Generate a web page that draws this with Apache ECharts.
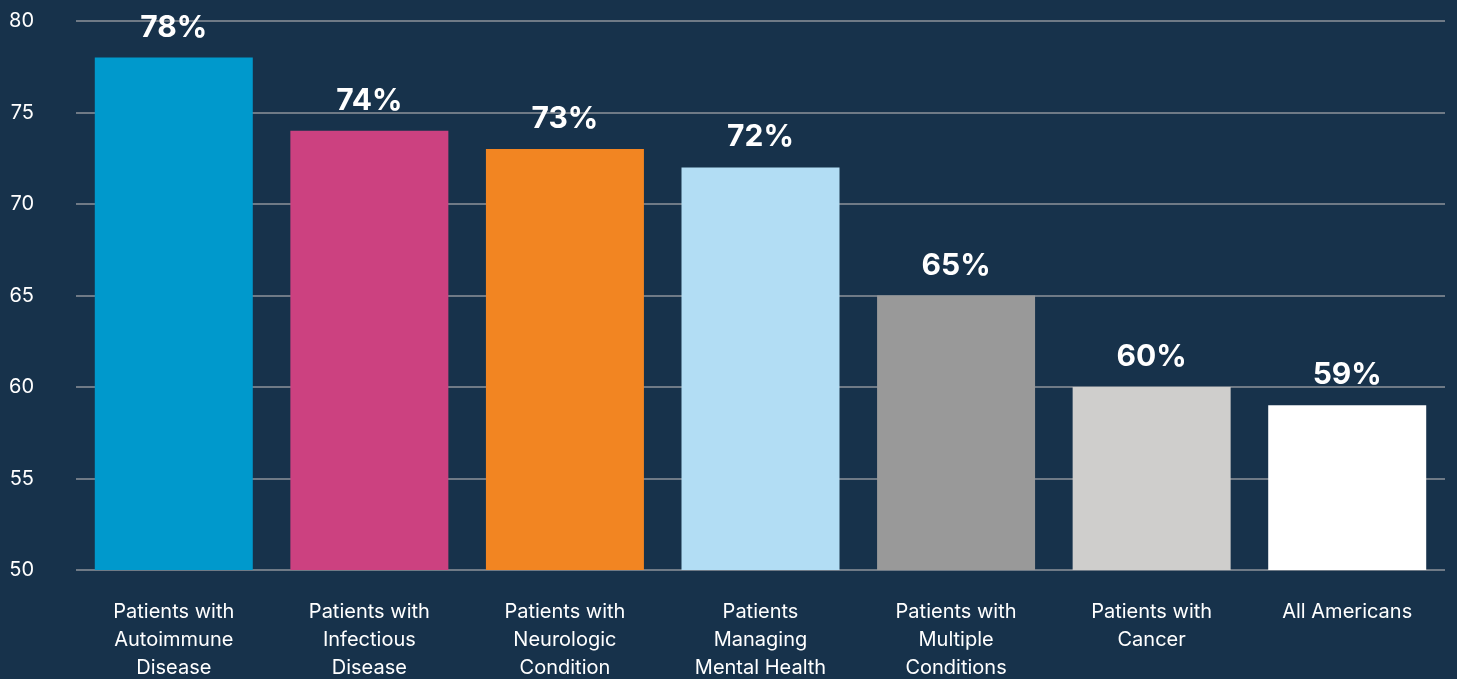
<!DOCTYPE html>
<html lang="en">
<head>
  <meta charset="UTF-8">
  <title>Bar chart</title>
  <style>
    * { margin: 0; padding: 0; }
    body { background: #17324b; }
    #chart { width: 1457px; height: 679px; }
  </style>
</head>
<body>
  <div id="chart"></div>
  <script src="https://cdn.jsdelivr.net/npm/echarts@6/dist/echarts.min.js"></script>
  <script type="text/javascript">
  var categories = [
    'Patients with\nAutoimmune\nDisease',
    'Patients with\nInfectious\nDisease',
    'Patients with\nNeurologic\nCondition',
    'Patients\nManaging\nMental Health',
    'Patients with\nMultiple\nConditions',
    'Patients with\nCancer',
    'All Americans'
  ];
  var values = [78, 74, 73, 72, 65, 60, 59];
  var barColors = ['#0099cc', '#cc4180', '#f28522', '#b2ddf4', '#999999', '#cfcecc', '#ffffff'];

  function main () {
    var chart = echarts.init(document.getElementById('chart'));
    var option = {
      backgroundColor: '#17324b',
      textStyle: { fontFamily: 'Inter' },
      grid: { left: 76, right: 12, top: 21, bottom: 109, outerBoundsMode: 'none' },
      xAxis: {
        type: 'category',
        data: categories,
        axisLine: { show: false },
        axisTick: { show: false },
        axisLabel: {
          color: '#ffffff',
          fontSize: 20,
          lineHeight: 28,
          margin: 28,
          interval: 0
        }
      },
      yAxis: {
        type: 'value',
        min: 50,
        max: 80,
        interval: 5,
        axisLine: { show: false },
        axisTick: { show: false },
        axisLabel: { color: '#ffffff', fontSize: 20, margin: 42 },
        splitLine: { lineStyle: { color: '#6f7a86', width: 2 } }
      },
      series: [{
        type: 'bar',
        barWidth: 158,
        data: values.map(function (v, i) {
          return { value: v, itemStyle: { color: barColors[i] } };
        }),
        label: {
          show: true,
          position: 'top',
          distance: 15,
          color: '#ffffff',
          fontSize: 30,
          fontWeight: 'bold',
          formatter: '{c}%'
        }
      }]
    };
    chart.setOption(option);
  }

  window.addEventListener('load', main);
  </script>
</body>
</html>
